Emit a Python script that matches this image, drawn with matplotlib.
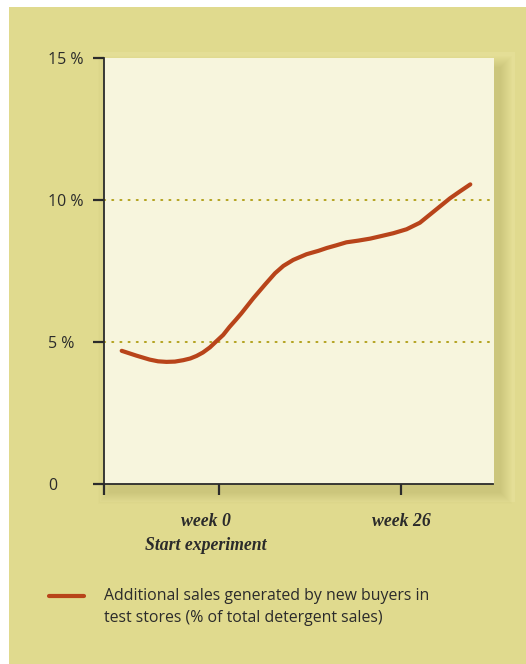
import numpy as np
import matplotlib.pyplot as plt
from matplotlib.patches import Rectangle
from matplotlib.transforms import blended_transform_factory, ScaledTranslation

# weeks relative to start of experiment, and extra sales share (%)
weeks = [-13.9, -11.8, -9.9, -8.7, -7.5, -6.3, -5.1, -4.1, -3.2, -2.3, -1.3, -0.4,
         0.6, 1.5, 2.4, 3.2, 4.9, 6.6, 8.0, 9.2, 10.6, 12.5, 14.2, 15.4, 16.7,
         18.2, 19.9, 21.6, 23.0, 24.9, 26.8, 28.7, 30.6, 33.0, 34.4, 35.9]
sales_pct = [4.69, 4.52, 4.38, 4.32, 4.30, 4.31, 4.36, 4.42, 4.51, 4.63, 4.81, 5.02,
             5.25, 5.53, 5.78, 6.01, 6.54, 7.03, 7.42, 7.68, 7.89, 8.09, 8.21, 8.31, 8.40,
             8.51, 8.57, 8.64, 8.72, 8.83, 8.97, 9.20, 9.58, 10.06, 10.30, 10.55]

y_ticks = [0, 5, 10, 15]
y_labels = ['0', '5 %', '10 %', '15 %']
x_ticks = [0, 26]
x_labels = ['week 0\nStart experiment', 'week 26']
legend_text = 'Additional sales generated by new buyers in\ntest stores (% of total detergent sales)'

khaki = '#e0da8e'
cream = '#f7f5dd'
red = '#b8441a'
gold = '#b3a21e'
dark = '#2b2b2b'

W, H = 526, 664
fig = plt.figure(figsize=(W / 100, H / 100), dpi=100, facecolor='white')

def fx(px):
    return px / W

def fy(py):
    return 1 - py / H

# page background with white margin top/left
fig.patches.append(Rectangle((fx(9), 0), 1 - fx(9), fy(7), transform=fig.transFigure,
                             facecolor=khaki, edgecolor='none', zorder=0))
# lighter band around the panel
fig.patches.append(Rectangle((fx(100), fy(502)), fx(415), fy(52) - fy(502),
                             transform=fig.transFigure, facecolor='#e4de96',
                             edgecolor='none', zorder=0.5))
# soft drop shadow
for i in range(12):
    grow = 12 - i
    fig.patches.append(Rectangle((fx(104 + 6 - grow), fy(484 + 8 + grow)),
                                 fx(390 + 2 * grow), (fy(60) - fy(484)) + 2 * grow / H,
                                 transform=fig.transFigure, facecolor='#8a7d2a',
                                 alpha=0.018, edgecolor='none', zorder=0.6))

ax = fig.add_axes([fx(104), fy(484), fx(390), fy(58) - fy(484)])
ax.set_facecolor(cream)
ax.set_zorder(1)

ax.plot(weeks, sales_pct, color=red, lw=3, solid_capstyle='round',
        solid_joinstyle='round', zorder=3)

for g in [5, 10]:
    ax.axhline(g, color=gold, lw=1.4, linestyle=(0, (0.6, 3.6)), dash_capstyle='round', zorder=2)

x_left = (104 - 219) / 7
x_right = (494 - 219) / 7
ax.set_xlim(x_left, x_right)
ax.set_ylim(0, 15)

for s in ['top', 'right']:
    ax.spines[s].set_visible(False)
ax.spines['bottom'].set_bounds(x_left, (493 - 219) / 7)
for s in ['left', 'bottom']:
    ax.spines[s].set_color(dark)
    ax.spines[s].set_linewidth(1.3)

ax.set_xticks([x_left] + x_ticks)
ax.set_xticklabels([''] + x_labels)
ax.set_yticks(y_ticks)
ax.set_yticklabels([])
ax.tick_params(axis='both', direction='out', length=8, width=1.6, color=dark)
ax.tick_params(axis='x', pad=13)

for lbl in ax.get_xticklabels():
    lbl.set_fontfamily('Liberation Serif')
    lbl.set_fontstyle('italic')
    lbl.set_fontweight('bold')
    lbl.set_fontsize(12.8)
    lbl.set_color(dark)
    lbl.set_linespacing(1.5)
# first label block sits a little left of its tick
first = ax.get_xticklabels()[1]
first.set_transform(first.get_transform() + ScaledTranslation(-13 / 100, 0, fig.dpi_scale_trans))

ytrans = blended_transform_factory(fig.transFigure, ax.transData) + \
    ScaledTranslation(0, -2 / 100, fig.dpi_scale_trans)
for v, t in zip(y_ticks, y_labels):
    ax.text(fx(48), v, t, transform=ytrans, ha='left', va='center',
            fontsize=11.5, family='Open Sans', color=dark)

# legend
fig.lines.append(plt.Line2D([fx(49), fx(84)], [fy(596), fy(596)], transform=fig.transFigure,
                            color=red, lw=3, solid_capstyle='round'))
fig.text(fx(104), fy(607), legend_text, ha='left', va='center', fontsize=11.4,
         family='Open Sans', color=dark, linespacing=1.45)

fig.savefig('out.png', dpi=100, facecolor='white')
